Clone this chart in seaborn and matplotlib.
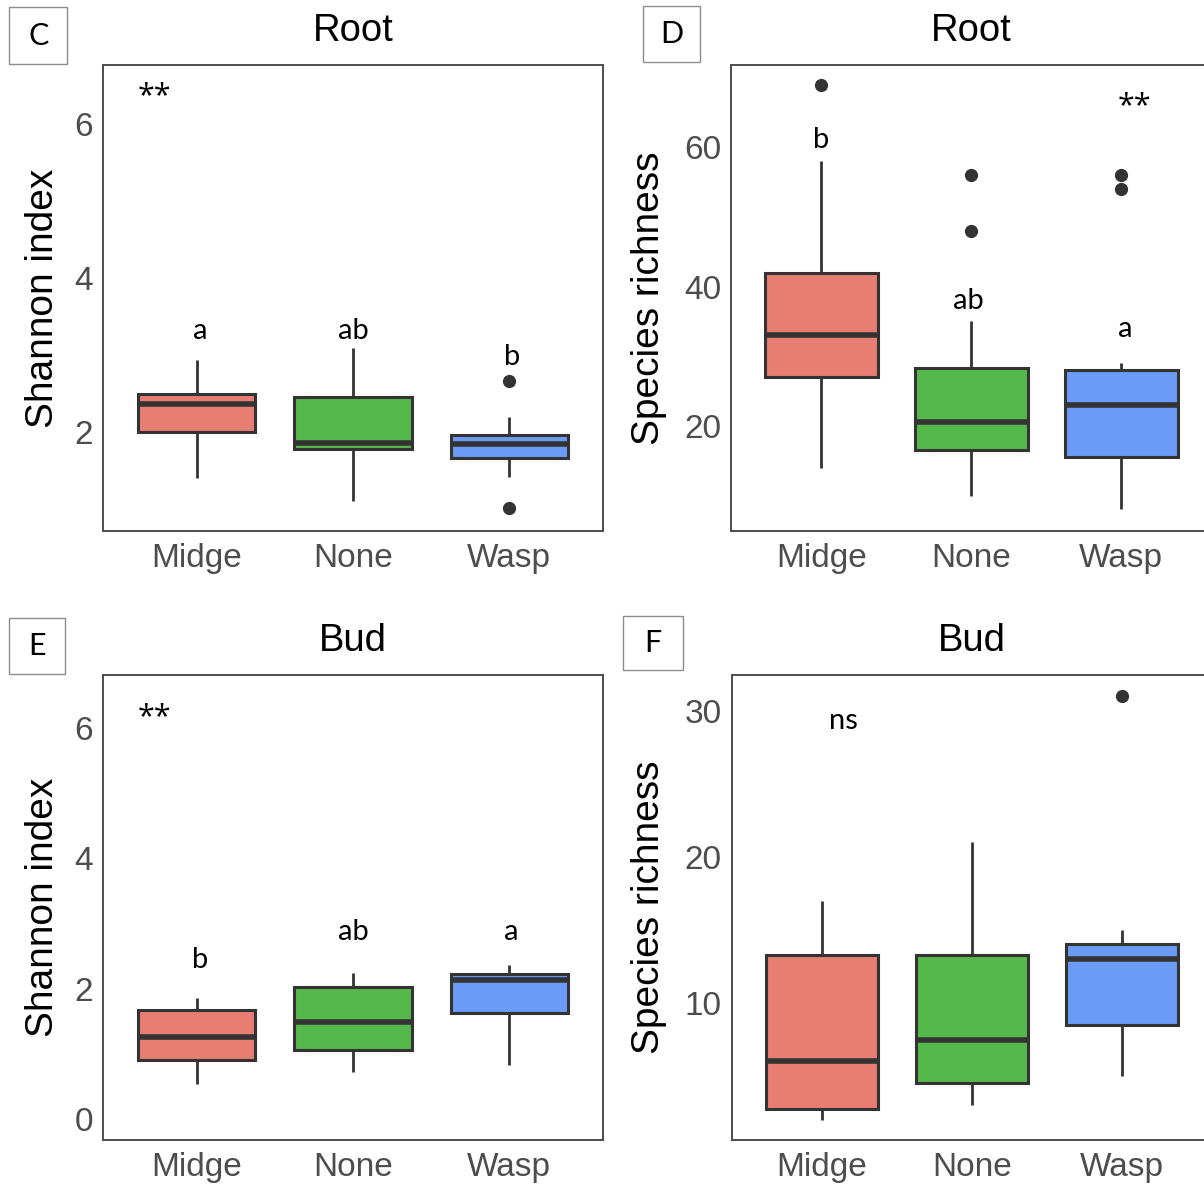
import numpy as np
import pandas as pd
import matplotlib
matplotlib.use("Agg")
import matplotlib.pyplot as plt
import seaborn as sns
from matplotlib.patches import Rectangle

# ---------------- data ----------------
groups = ["Midge", "None", "Wasp"]
colors = ["#E87D72", "#55B84A", "#6A9BF6"]

# Panel C: Root, Shannon index  (whisker low, Q1, median, Q3, whisker high, outliers)
c_whis_lo = [1.40, 1.11, 1.41]
c_q1 = [2.00, 1.78, 1.66]
c_median = [2.36, 1.86, 1.84]
c_q3 = [2.49, 2.45, 1.96]
c_whis_hi = [2.94, 3.09, 2.20]
c_outliers = [[], [], [2.66, 1.01]]
c_letters = ["a", "ab", "b"]

# Panel D: Root, Species richness
d_whis_lo = [14, 10, 8]
d_q1 = [27, 16.5, 15.5]
d_median = [33, 20.5, 23]
d_q3 = [42, 28.25, 28]
d_whis_hi = [58, 35, 29]
d_outliers = [[69], [48, 56], [54, 56]]
d_letters = ["b", "ab", "a"]

# Panel E: Bud, Shannon index
e_whis_lo = [0.54, 0.72, 0.83]
e_q1 = [0.91, 1.07, 1.63]
e_median = [1.27, 1.50, 2.13]
e_q3 = [1.68, 2.03, 2.23]
e_whis_hi = [1.86, 2.25, 2.36]
e_outliers = [[], [], []]
e_letters = ["b", "ab", "a"]

# Panel F: Bud, Species richness
f_whis_lo = [2, 3, 5]
f_q1 = [2.75, 4.5, 8.5]
f_median = [6, 7.5, 13]
f_q3 = [13.25, 13.25, 14]
f_whis_hi = [17, 21, 15]
f_outliers = [[], [], [31]]
f_letters = ["", "", ""]


def sample_from_summary(lo, q1, med, q3, hi, out):
    """Repeat the read summary values so that the boxplot statistics
    (linear percentiles, 1.5 IQR whiskers) reproduce them exactly."""
    low = sorted(o for o in out if o < q1)
    high = sorted(o for o in out if o > q3)
    m = max(len(low) + 1, len(high) + 1)
    vals = low + [lo] * (m - len(low))
    vals += [q1] * m
    vals += [med] * m
    vals += [q3]
    vals += [hi] * (m - len(high)) + high
    return vals


def make_frame(lo, q1, med, q3, hi, outs):
    rows = []
    for i, g in enumerate(groups):
        for v in sample_from_summary(lo[i], q1[i], med[i], q3[i], hi[i], outs[i]):
            rows.append((g, v))
    return pd.DataFrame(rows, columns=["group", "value"])


# ---------------- style ----------------
sns.set_theme(style="white")
plt.rcParams["font.family"] = ["Liberation Sans", "DejaVu Sans"]

W, H = 1204, 1185
fig = plt.figure(figsize=(W / 100, H / 100), dpi=100)
fig.patch.set_facecolor("white")


def px_rect(l, t, r, b):
    return [l / W, 1 - b / H, (r - l) / W, (b - t) / H]


panels = [
    dict(df=make_frame(c_whis_lo, c_q1, c_median, c_q3, c_whis_hi, c_outliers),
         rect=px_rect(103.3, 65, 602.7, 530.7), ylim=(0.72, 6.76), yticks=[2, 4, 6],
         title="Root", ylabel="Shannon index", ylab_x=-0.120,
         letters=c_letters, letter_xy=[(0.02, 3.21), (1.0, 3.21), (2.02, 2.87)],
         star=("**", -0.27, 6.25),
         tag="C", tag_box=(9.3, 7.3, 67.3, 64.3)),
    dict(df=make_frame(d_whis_lo, d_q1, d_median, d_q3, d_whis_hi, d_outliers),
         rect=px_rect(731.3, 65, 1211.3, 530.7), ylim=(4.95, 71.8), yticks=[20, 40, 60],
         title="Root", ylabel="Species richness", ylab_x=-0.172,
         letters=d_letters, letter_xy=[(0.0, 59.9), (0.98, 36.8), (2.025, 32.7)],
         star=("**", 2.09, 64.8),
         tag="D", tag_box=(643.3, 5.7, 700.2, 62.2)),
    dict(df=make_frame(e_whis_lo, e_q1, e_median, e_q3, e_whis_hi, e_outliers),
         rect=px_rect(103.3, 675, 602.7, 1140), ylim=(-0.315, 6.81), yticks=[0, 2, 4, 6],
         title="Bud", ylabel="Shannon index", ylab_x=-0.121,
         letters=e_letters, letter_xy=[(0.02, 2.32), (1.0, 2.75), (2.015, 2.75)],
         star=("**", -0.27, 6.04),
         tag="E", tag_box=(8.6, 617.6, 65.0, 674.0)),
    dict(df=make_frame(f_whis_lo, f_q1, f_median, f_q3, f_whis_hi, f_outliers),
         rect=px_rect(732.0, 675, 1212.0, 1140), ylim=(0.63, 32.43), yticks=[10, 20, 30],
         title="Bud", ylabel="Species richness", ylab_x=-0.173,
         letters=f_letters, letter_xy=[(0, 0), (0, 0), (0, 0)],
         star=("ns", 0.14, 28.72),
         tag="F", tag_box=(623.3, 615.7, 682.7, 669.8)),
]

edge = "#333333"
ann_font = ["Lato", "DejaVu Sans"]
star_font = ["Open Sans", "DejaVu Sans"]

for p in panels:
    ax = fig.add_axes(p["rect"])
    sns.boxplot(
        data=p["df"], x="group", y="value", hue="group", order=groups,
        hue_order=groups, palette=colors, saturation=1, legend=False, width=0.75,
        linewidth=2.2, linecolor=edge, showcaps=False, fliersize=8.5,
        medianprops=dict(linewidth=4.0, color=edge),
        whiskerprops=dict(linewidth=2.0, color=edge),
        boxprops=dict(linewidth=2.2, edgecolor=edge),
        flierprops=dict(marker="o", markerfacecolor=edge, markeredgecolor=edge),
        ax=ax,
    )
    ax.set_xlim(-0.6, 2.6)
    ax.set_ylim(*p["ylim"])
    ax.set_yticks(p["yticks"])
    ax.set_xlabel("")
    ax.set_ylabel(p["ylabel"], fontsize=28, color="black", va="center")
    ax.yaxis.set_label_coords(p["ylab_x"], 0.5)
    ax.set_title(p["title"], fontsize=27.5, color="black", pad=17.5)
    ax.tick_params(axis="both", direction="out", length=5, width=1.3,
                   color=edge, labelcolor="#4D4D4D", labelsize=24)
    ax.tick_params(axis="x", pad=3.5)
    ax.tick_params(axis="y", pad=2.5)
    ax.set_facecolor("white")
    ax.grid(False)
    for s in ax.spines.values():
        s.set_visible(True)
        s.set_color("#4D4D4D")
        s.set_linewidth(1.4)

    for lab, (lx, ly) in zip(p["letters"], p["letter_xy"]):
        if lab:
            ax.text(lx, ly, lab, ha="center", va="baseline", fontsize=21,
                    color="black", family=ann_font)
    st, sx, sy = p["star"]
    if st == "**":
        ax.text(sx, sy, st, ha="center", va="baseline", fontsize=22,
                color="black", family=star_font)
    else:
        ax.text(sx, sy, st, ha="center", va="baseline", fontsize=21,
                color="black", family=ann_font)

    l, t, r, b = p["tag_box"]
    fig.patches.append(Rectangle((l / W, 1 - b / H), (r - l) / W, (b - t) / H,
                                 transform=fig.transFigure, fill=False,
                                 edgecolor="#8C8C8C", linewidth=1.0))
    fig.text((l + r) / 2 / W, 1 - (t + b) / 2 / H, p["tag"], ha="center",
             va="center", fontsize=22, color="black", family=ann_font)

fig.savefig("out.png", dpi=100, facecolor="white")
